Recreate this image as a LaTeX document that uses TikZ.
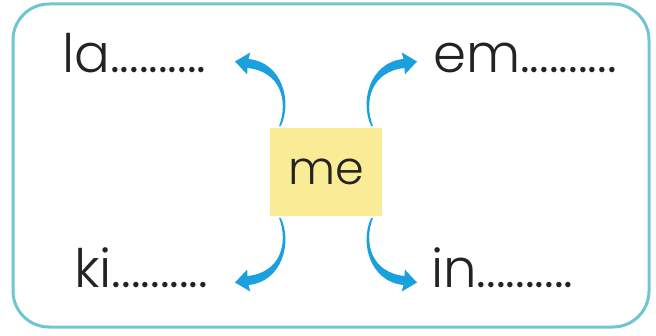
\documentclass[tikz,border=0pt]{standalone}
\usepackage{fontspec}
\setmainfont{Poppins Light}
\definecolor{framecol}{RGB}{112,198,208}
\definecolor{boxcol}{RGB}{250,236,150}
\definecolor{arrowblue}{RGB}{27,160,222}
\definecolor{inkcol}{RGB}{35,35,35}
\tikzset{
	frame/.style={draw=framecol, line width=3pt, rounded corners=36pt},
	word/.style={anchor=base west, inner sep=0pt, font=\fontsize{53}{53}\selectfont, text=inkcol},
	mebox/.style={fill=boxcol, minimum width=112pt, minimum height=88pt, inner sep=0pt, font=\fontsize{46}{46}\selectfont, text=inkcol},
	bluearrow/.pic={
		\fill[arrowblue] (-45,46.3) .. controls (-33.8,70) and (-43.4,109.5) .. (-77.4,113)
			-- (-75.8,119.5) -- (-91,110.5) -- (-78.8,97.5) -- (-78.6,104)
			.. controls (-44.6,100.5) and (-37.6,70) .. (-47,45.7) -- cycle;
	}
}
\begin{document}
\begin{tikzpicture}[x=1pt, y=1pt]
	\useasboundingbox (0,0) rectangle (656,335);
	\draw[frame] (13,331) rectangle (649,8);
	
	\node[mebox] at (326,163) (me) {me};
	
	\node[word] at (62,262) (la) {la..........};
	\node[word] at (433,262) (em) {em..........};
	\node[word] at (74,48) (ki) {ki..........};
	\node[word] at (431,48) (in) {in..........};
	
	% curved arrows from the box to the words
	\path (me.center) pic {bluearrow};
	\path (me.center) pic[xscale=-1] {bluearrow};
	\path (me.center) pic[yscale=-1] {bluearrow};
	\path (me.center) pic[xscale=-1, yscale=-1] {bluearrow};
\end{tikzpicture}
\end{document}
